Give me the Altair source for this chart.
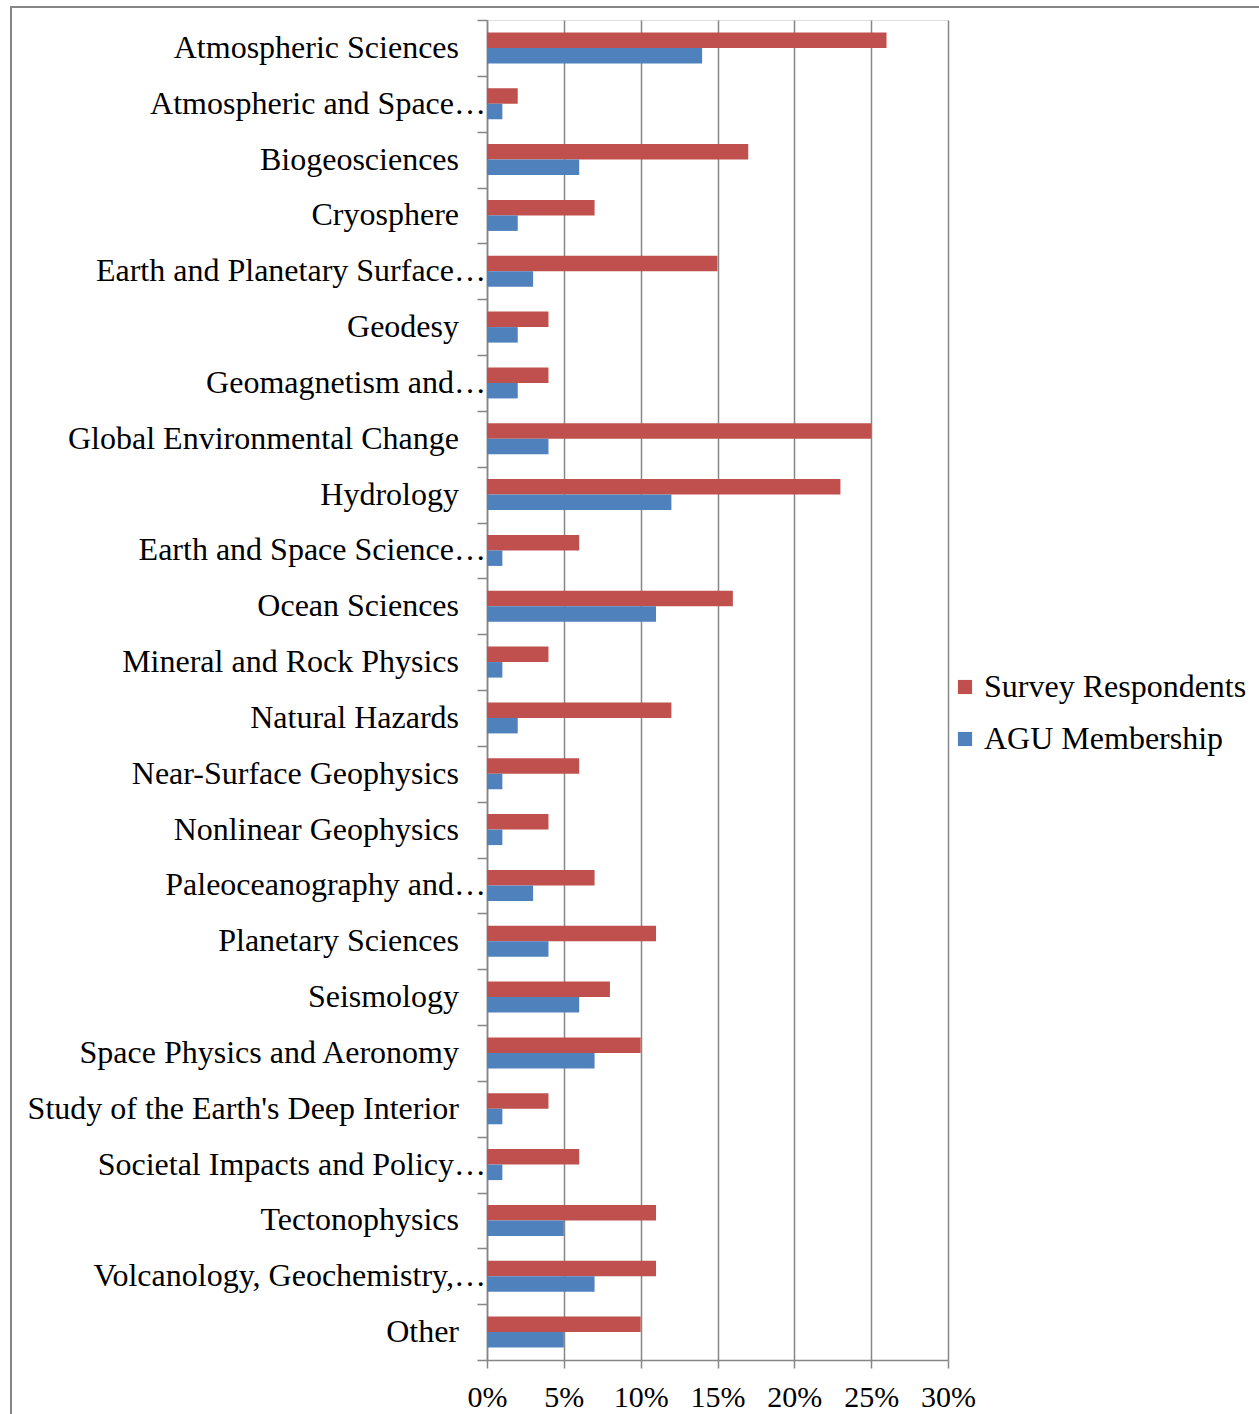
import altair as alt
import pandas as pd

categories = [
    "Atmospheric Sciences", "Atmospheric and Space…", "Biogeosciences", "Cryosphere",
    "Earth and Planetary Surface…", "Geodesy", "Geomagnetism and…",
    "Global Environmental Change", "Hydrology", "Earth and Space Science…",
    "Ocean Sciences", "Mineral and Rock Physics", "Natural Hazards",
    "Near-Surface Geophysics", "Nonlinear Geophysics", "Paleoceanography and…",
    "Planetary Sciences", "Seismology", "Space Physics and Aeronomy",
    "Study of the Earth's Deep Interior", "Societal Impacts and Policy…",
    "Tectonophysics", "Volcanology, Geochemistry,…", "Other",
]
survey = [26, 2, 17, 7, 15, 4, 4, 25, 23, 6, 16, 4, 12, 6, 4, 7, 11, 8, 10, 4, 6, 11, 11, 10]
agu = [14, 1, 6, 2, 3, 2, 2, 4, 12, 1, 11, 1, 2, 1, 1, 3, 4, 6, 7, 1, 1, 5, 7, 5]
series = ["Survey Respondents", "AGU Membership"]
colors = ["#C0504D", "#4F81BD"]
x_ticks = [0, 0.05, 0.10, 0.15, 0.20, 0.25, 0.30]

rows = []
for c, s, a in zip(categories, survey, agu):
    rows.append({"cat": c, "series": series[0], "val": s / 100})
    rows.append({"cat": c, "series": series[1], "val": a / 100})
df = pd.DataFrame(rows)
lab = pd.DataFrame({"cat": categories})

FONT = "Liberation Serif, Times New Roman, serif"
FS = 32
FSX = 30
W, H = 461, 1340

yscale = alt.Scale(domain=categories, paddingInner=0, paddingOuter=0)

bars = alt.Chart(df).mark_bar().encode(
    x=alt.X("val:Q", scale=alt.Scale(domain=[0, 0.30]),
            axis=alt.Axis(values=x_ticks, format=".0%", title=None, grid=True,
                          gridColor="#868686", gridWidth=1.5, domainColor="#868686",
                          domainWidth=1.5, tickColor="#868686", tickWidth=1.5, tickSize=8,
                          labelFont=FONT, labelFontSize=FSX, labelColor="black",
                          labelPadding=14, labelOverlap=False, labelFlush=False)),
    y=alt.Y("cat:N", scale=yscale, sort=categories,
            axis=alt.Axis(title=None, labels=False, tickBand="extent", tickSize=10,
                          tickColor="#868686", tickWidth=1.5, domainColor="#868686",
                          domainWidth=1.5, grid=False)),
    yOffset=alt.YOffset("series:N", sort=series,
                        scale=alt.Scale(domain=series, paddingInner=0, paddingOuter=0.8)),
    color=alt.Color("series:N", scale=alt.Scale(domain=series, range=colors),
                    legend=alt.Legend(title=None, orient="none", legendX=462, legendY=651,
                                      padding=0,
                                      symbolType="square", symbolSize=200, symbolStrokeWidth=0,
                                      labelFont=FONT, labelFontSize=FS, labelColor="black",
                                      rowPadding=20, labelOffset=3, labelLimit=400)),
)

full_labels = alt.Chart(lab).transform_filter(
    "indexof(datum.cat, '…') < 0"
).mark_text(align="right", baseline="middle", font=FONT, fontSize=FS, color="black", dx=-28).encode(
    y=alt.Y("cat:N", scale=yscale, sort=categories),
    x=alt.value(0),
    text="cat:N",
)
trunc_labels = alt.Chart(lab).transform_filter(
    "indexof(datum.cat, '…') >= 0"
).mark_text(align="right", baseline="middle", font=FONT, fontSize=FS, color="black", dx=-1).encode(
    y=alt.Y("cat:N", scale=yscale, sort=categories),
    x=alt.value(0),
    text="cat:N",
)

frame = alt.Chart(lab).mark_rect(filled=False, stroke="#868686", strokeWidth=2).encode(
    x=alt.value(-476), x2=alt.value(W + 330), y=alt.value(-13), y2=alt.value(H + 100)
)

chart = alt.layer(frame, bars, full_labels, trunc_labels).properties(
    width=W, height=H,
    autosize=alt.AutoSizeParams(type="none"),
    padding={"left": 487, "top": 20, "right": 1259 - 487 - W, "bottom": 1414 - 20 - H},
).configure_view(stroke=None).configure(background="white")

chart.save("out.html", embed_options={"renderer": "svg", "actions": False})
